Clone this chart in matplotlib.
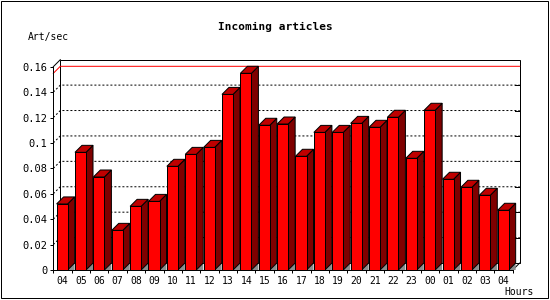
import matplotlib
matplotlib.use("Agg")
import matplotlib.pyplot as plt
from matplotlib.patches import Polygon, Rectangle
from matplotlib.ticker import FixedLocator, FuncFormatter

hours = ["04", "05", "06", "07", "08", "09", "10", "11", "12", "13", "14", "15",
         "16", "17", "18", "19", "20", "21", "22", "23", "00", "01", "02", "03", "04"]
values = [0.052, 0.0926, 0.0732, 0.0312, 0.0501, 0.0540, 0.0816, 0.0910, 0.0965,
          0.1382, 0.1548, 0.1139, 0.1149, 0.0895, 0.1083, 0.1083, 0.1154, 0.1123,
          0.1202, 0.0879, 0.1257, 0.0714, 0.0651, 0.0588, 0.0470]
yticks = [0, 0.02, 0.04, 0.06, 0.08, 0.10, 0.12, 0.14, 0.16]
title = "Incoming articles"
ylabel = "Art/sec"
xlabel = "Hours"

W, H, DPI = 550, 300, 100
fig = plt.figure(figsize=(W / DPI, H / DPI), dpi=DPI)
fig.patch.set_facecolor("white")

ax_l, ax_r, ax_b, ax_t = 53.3, 512.7, 270.0, 66.7
ax = fig.add_axes([ax_l / W, (H - ax_b) / H, (ax_r - ax_l) / W, (ax_b - ax_t) / H])
n = len(values)
ax.set_xlim(0, n)
ax.set_ylim(0, 0.16)
ax.set_facecolor("none")

# 3D depth offset (7 px right, 7 px up) in data units
inv = ax.transData.inverted()
p0 = inv.transform((0, 0))
p1 = inv.transform((7, 7))
ddx, ddy = p1[0] - p0[0], p1[1] - p0[1]
px_x = (p1[0] - p0[0]) / 7.0

lw = 0.72  # 1 px

# back frame
ax.add_patch(Rectangle((ddx, ddy), n, 0.16, fill=False, ec="black", lw=lw,
                       clip_on=False, zorder=1))
# diagonals of the 3D box
ax.plot([0, ddx], [0.16, 0.16 + ddy], color="black", lw=lw, clip_on=False, zorder=1)
ax.plot([n, n + ddx], [0, ddy], color="black", lw=lw, clip_on=False, zorder=1)

# dotted grid lines in back plane
for v in yticks[1:-1]:
    ax.plot([0, ddx, n + ddx], [v, v + ddy, v + ddy], color="black", lw=lw,
            linestyle=(0, (2, 2)), clip_on=False, zorder=1.5)
    # right side ticks
    ax.plot([n + ddx - 5 * px_x, n + ddx], [v + ddy, v + ddy], color="black",
            lw=lw, clip_on=False, zorder=1.5)

# max line (red)
vmax = max(values)
ax.plot([0, ddx, n + ddx], [vmax, vmax + ddy, vmax + ddy], color="red", lw=lw,
        clip_on=False, zorder=1.6)

# bars
bw = 0.6
for i, v in enumerate(values):
    x0 = i + 0.18
    x1 = x0 + bw
    z = 2 + i * 0.01
    ax.add_patch(Polygon([(x1, 0), (x1 + ddx, ddy), (x1 + ddx, 0)], closed=True,
                         fc="#8c8c8c", ec="none", clip_on=False, zorder=z))
    ax.add_patch(Polygon([(x1, 0), (x1 + ddx, ddy), (x1 + ddx, v + ddy), (x1, v)],
                         closed=True, fc="#7f0000", ec="black", lw=lw,
                         clip_on=False, zorder=z))
    ax.add_patch(Polygon([(x0, v), (x1, v), (x1 + ddx, v + ddy), (x0 + ddx, v + ddy)],
                         closed=True, fc="#bf0000", ec="black", lw=lw,
                         clip_on=False, zorder=z))
    ax.bar(x0, v, width=bw, align="edge", color="#ff0000", edgecolor="black",
           linewidth=lw, zorder=z + 0.005, clip_on=False)

# axes styling
for s in ["top", "right"]:
    ax.spines[s].set_visible(False)
for s in ["left", "bottom"]:
    ax.spines[s].set_linewidth(lw)
    ax.spines[s].set_zorder(3)

mono = "DejaVu Sans Mono"
ax.set_yticks(yticks)
ax.yaxis.set_major_formatter(FuncFormatter(lambda v, p: "%g" % v))
ax.tick_params(axis="y", direction="out", length=2.2, width=lw, pad=2.0,
               labelsize=7.5)
ax.xaxis.set_major_locator(FixedLocator(list(range(n + 1))))
ax.xaxis.set_minor_locator(FixedLocator([i + 0.5 for i in range(n)]))
ax.xaxis.set_major_formatter(FuncFormatter(lambda v, p: ""))
ax.set_xticks([i + 0.5 for i in range(n)], minor=True)
ax.set_xticklabels(hours, minor=True)
ax.tick_params(axis="x", which="major", direction="out", length=2.2, width=lw)
ax.tick_params(axis="x", which="minor", length=0, pad=4.0, labelsize=7)
for lab in ax.get_xticklabels(minor=True) + ax.get_yticklabels():
    lab.set_family(mono)

fig.text(275 / W, 1 - 26.7 / H, title, ha="center", va="center",
         family=mono, weight="bold", fontsize=8)
fig.text(28 / W, 1 - 37 / H, ylabel, ha="left", va="center", family=mono, fontsize=7)
fig.text(504 / W, 1 - 292 / H, xlabel, ha="left", va="center", family=mono, fontsize=7)

fig.add_artist(Rectangle((0.5 / W, 2.5 / H), 547 / W, 297 / H, transform=fig.transFigure,
                         fill=False, ec="black", lw=lw))

fig.savefig("out.png", dpi=DPI, facecolor="white")
